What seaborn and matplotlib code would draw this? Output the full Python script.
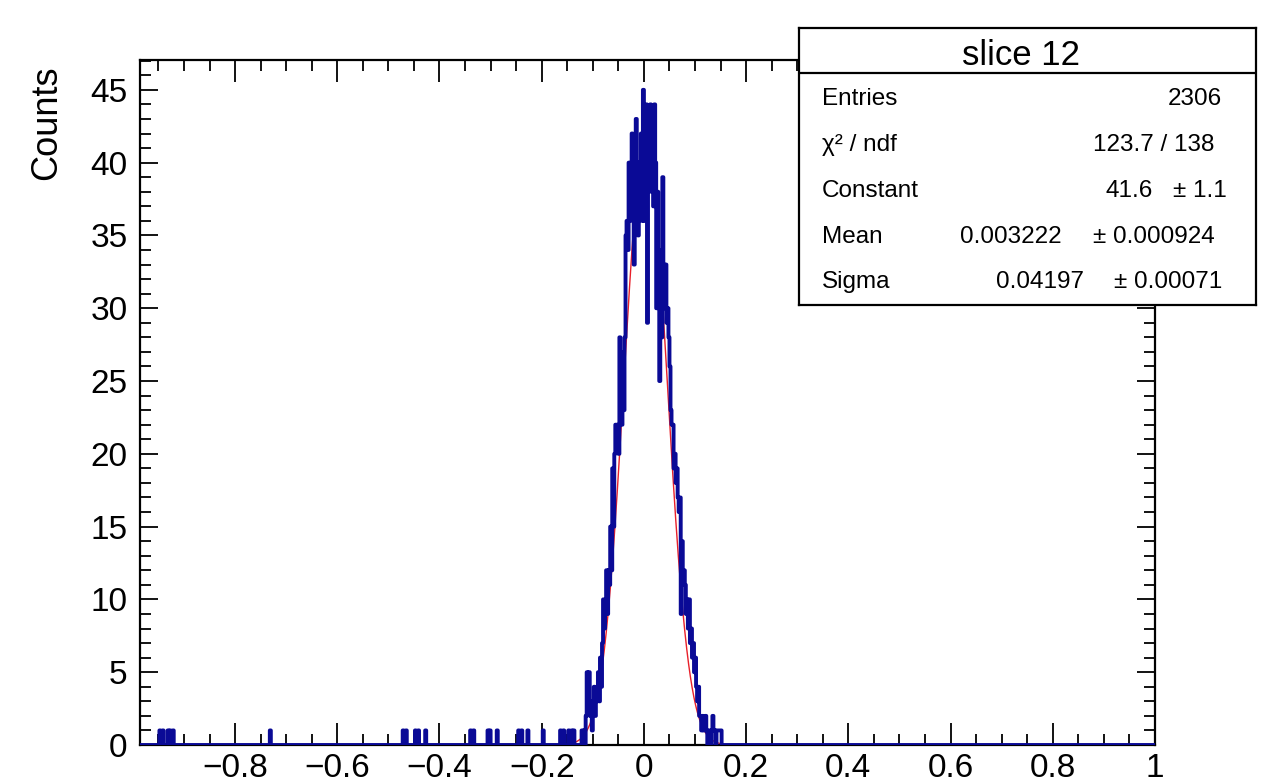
import numpy as np
import pandas as pd
import seaborn as sns
import matplotlib.pyplot as plt
from matplotlib.ticker import MultipleLocator, FuncFormatter

# Histogram binning: 1000 bins between -1 and 1
hist_lo = -1.0
hist_hi = 1.0
n_bins = 1000

# Lone single-count bins out in the left tail (bin centres)
tail_x = [-0.947, -0.941, -0.931, -0.927, -0.921, -0.731, -0.471, -0.465,
          -0.447, -0.441, -0.427, -0.339, -0.333, -0.305, -0.301, -0.287,
          -0.245, -0.239, -0.227, -0.197, -0.163, -0.157, -0.147, -0.141,
          -0.137]

# Counts of consecutive bins around the peak, first bin starts at x = -0.124
peak_start = -0.124
peak_counts = [0, 1, 0, 1, 0, 2, 5, 3, 5, 2,
               3, 1, 3, 4, 2, 3, 4, 5, 3, 6,
               4, 7, 10, 8, 9, 12, 9, 12, 11, 15,
               12, 19, 15, 20, 22, 21, 22, 20, 28, 27,
               22, 26, 23, 28, 35, 36, 34, 40, 36, 39,
               42, 38, 33, 40, 43, 38, 35, 40, 37, 42,
               36, 45, 36, 41, 44, 29, 43, 40, 44, 38,
               42, 37, 44, 40, 30, 38, 34, 25, 31, 28,
               39, 33, 30, 33, 29, 30, 28, 26, 23, 22,
               22, 19, 20, 18, 19, 17, 16, 17, 9, 14,
               11, 12, 11, 9, 10, 8, 10, 7, 8, 6,
               7, 5, 6, 4, 3, 4, 2, 2, 1, 2,
               1, 1, 2, 1, 0, 1, 1, 0, 1, 2,
               1, 1, 0, 1, 1, 1, 1, 1, 0, 0,
               0]

# Gaussian fit results (from the stats box)
fit_const = 41.6
fit_mean = 0.003222
fit_sigma = 0.04197
fit_lo, fit_hi = -0.15, 0.15

# Stats box rows
box_title = "slice 12"
row_labels = ["Entries", "χ² / ndf", "Constant", "Mean", "Sigma"]
row_values = ["2306", "123.7 / 138", "41.6", "0.003222", "0.04197"]
row_errors = ["", "", "± 1.1", "± 0.000924", "± 0.00071"]

# ---- build the histogram table
bin_w = (hist_hi - hist_lo) / n_bins
centers = hist_lo + bin_w * (np.arange(n_bins) + 0.5)
counts = np.zeros(n_bins)
for x in tail_x:
    counts[int(np.floor((x - hist_lo) / bin_w))] += 1
i0 = int(round((peak_start - hist_lo) / bin_w))
counts[i0:i0 + len(peak_counts)] = peak_counts
df = pd.DataFrame({"x": centers, "n": counts})

fit_x = np.linspace(fit_lo, fit_hi, 600)
fit_y = fit_const * np.exp(-0.5 * ((fit_x - fit_mean) / fit_sigma) ** 2)

# ---- plot
sns.set_style("ticks")
plt.rcParams["font.family"] = ["Liberation Sans", "DejaVu Sans"]
plt.rcParams["text.color"] = "black"
plt.rcParams["xtick.color"] = "black"
plt.rcParams["ytick.color"] = "black"
plt.rcParams["axes.labelcolor"] = "black"

fig = plt.figure(figsize=(12.61, 7.84), dpi=100)
ax = fig.add_axes([140 / 1261, 39 / 784, 1015 / 1261, 685 / 784])

sns.lineplot(x=fit_x, y=fit_y, color="#e8202a", linewidth=1.0, ax=ax, zorder=2)
sns.histplot(data=df, x="x", weights="n", bins=n_bins, binrange=(hist_lo, hist_hi),
             element="step", fill=False, color="#0a0a96", linewidth=2.8,
             ax=ax, zorder=3)

ax.set_xlim(-0.986, 1.0)
ax.set_ylim(0, 47.05)
ax.set_xlabel("")
ax.set_ylabel("")

ax.xaxis.set_major_locator(MultipleLocator(0.2))
ax.xaxis.set_minor_locator(MultipleLocator(0.05))
ax.yaxis.set_major_locator(MultipleLocator(5))
ax.yaxis.set_minor_locator(MultipleLocator(1))


def fmt_x(v, pos):
    s = f"{round(v, 2):g}"
    if s in ("-0", "0"):
        return "0"
    return s.replace("-", "\u2212")


ax.xaxis.set_major_formatter(FuncFormatter(fmt_x))
ax.yaxis.set_major_formatter(FuncFormatter(lambda v, p: f"{v:.0f}"))

ax.tick_params(which="both", direction="in", top=True, right=True,
               width=1.3, color="black", labelcolor="black", labelsize=24)
ax.tick_params(axis="x", pad=6)
ax.tick_params(axis="y", pad=9)
ax.tick_params(axis="x", which="major", length=16)
ax.tick_params(axis="x", which="minor", length=8)
ax.tick_params(axis="y", which="major", length=13)
ax.tick_params(axis="y", which="minor", length=8)
for sp in ax.spines.values():
    sp.set_linewidth(1.6)
    sp.set_color("black")

fig.text(47 / 1261, 1 - 66 / 784, "Counts", rotation=90, va="top",
         ha="center", fontsize=26)

# ---- stats box
box = fig.add_axes([799 / 1261, 1 - 305 / 784, 457 / 1261, 277 / 784])
box.set_facecolor("white")
box.set_xticks([])
box.set_yticks([])
box.set_xlim(0, 1)
box.set_ylim(0, 1)
for sp in box.spines.values():
    sp.set_linewidth(1.6)
    sp.set_color("black")
box.axhline(0.8375, color="black", linewidth=1.6)
box.text(0.486, 0.9025, box_title, ha="center", va="center", fontsize=25)

row_y = [0.7437, 0.5776, 0.4116, 0.2455, 0.0830]
val_right = [0.926, 0.908, 0.774, 0.574, 0.624]
err_right = [None, None, 0.936, 0.91, 0.926]
for lab, val, err, y, vr, er in zip(row_labels, row_values, row_errors,
                                    row_y, val_right, err_right):
    box.text(0.050, y, lab, ha="left", va="center", fontsize=17.5)
    box.text(vr, y, val, ha="right", va="center", fontsize=17.5)
    if err:
        box.text(er, y, err, ha="right", va="center", fontsize=17.5)

plt.savefig("out.png", dpi=100)
